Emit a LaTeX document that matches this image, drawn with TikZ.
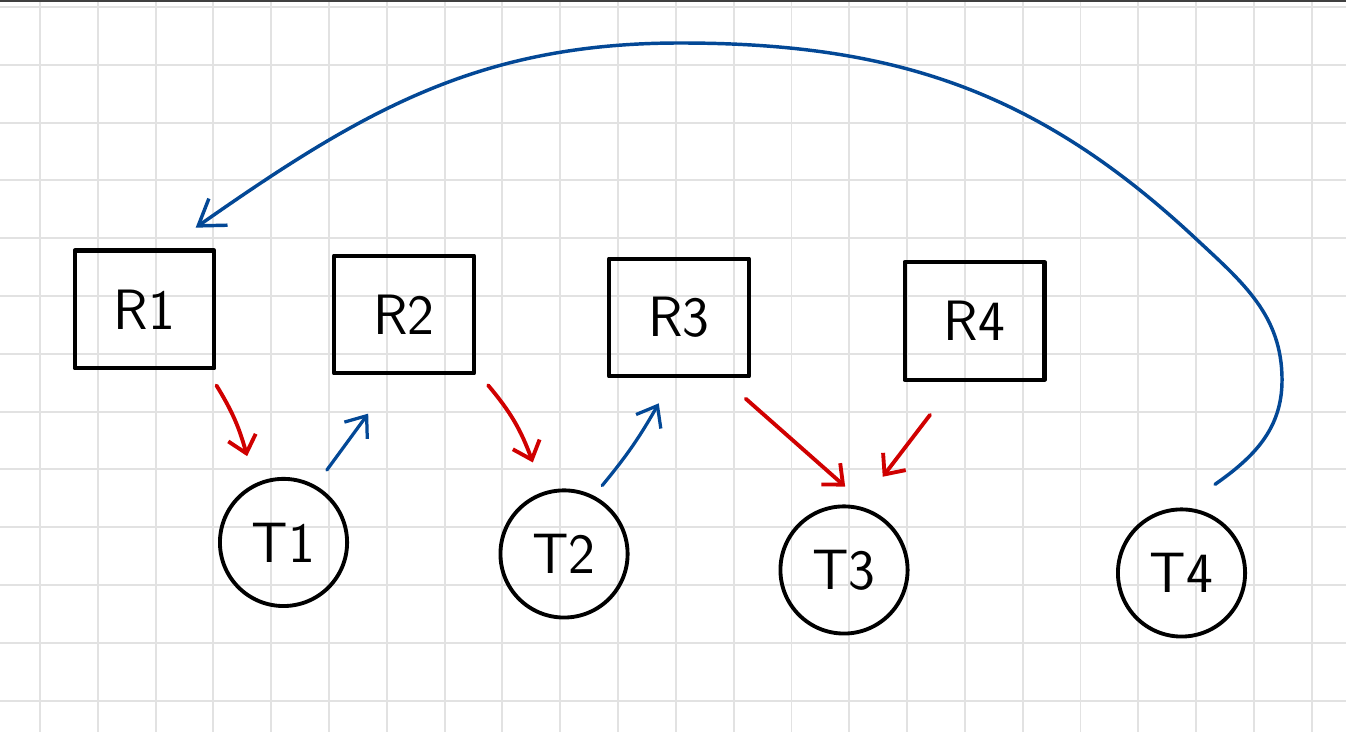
\documentclass[tikz,border=0pt]{standalone}
\usetikzlibrary{arrows.meta}
\definecolor{penred}{RGB}{208,0,0}
\definecolor{penblue}{RGB}{3,72,150}
\definecolor{gridgray}{RGB}{226,226,226}
\tikzset{
  res/.style={draw, line width=2pt, minimum width=2.42cm, minimum height=2.04cm, inner sep=0pt},
  thr/.style={draw, circle, line width=1.9pt, minimum size=2.2cm, inner sep=0pt},
  redarr/.style={-{Straight Barb[length=8pt,width=14pt]}, penred, line width=1.9pt},
  bluearr/.style={-{Straight Barb[length=9pt,width=14pt]}, penblue, line width=1.6pt},
  gridline/.style={gridgray, line width=0.9pt},
}
\begin{document}
\begin{tikzpicture}[line join=round, line cap=round, font=\sffamily\fontsize{28}{30}\selectfont]
\useasboundingbox (0,0) rectangle (23.287,12.664);
\fill[white] (0,0) rectangle (23.287,12.664);
% squared paper
\foreach \i in {0,...,22} \draw[gridline] (0.692+\i,0) -- (0.692+\i,12.664);
\foreach \j in {0,...,12} \draw[gridline] (0,0.543+\j) -- (23.287,0.543+\j);
\fill[black!75] (0,12.63) rectangle (23.287,12.664);
% resources
\node[res] (R1) at (2.500,7.310) {R1};
\node[res] (R2) at (6.990,7.223) {R2};
\node[res] (R3) at (11.747,7.171) {R3};
\node[res] (R4) at (16.860,7.111) {R4};
% threads
\node[thr] (T1) at (4.905,3.279) {T1};
\node[thr] (T2) at (9.758,3.080) {T2};
\node[thr] (T3) at (14.602,2.803) {T3};
\node[thr] (T4) at (20.441,2.751) {T4};
% held by
\draw[redarr] ([yshift=-0.26cm]R1.south east) to[bend left=8] ([shift={(-0.63,0.36)}]T1.north);
\draw[redarr] ([shift={(0.21,-0.17)}]R2.south east) to[bend left=10] ([shift={(-0.54,0.45)}]T2.north);
\draw[redarr] ([shift={(-0.09,-0.35)}]R3.south east) -- ([shift={(0.02,0.31)}]T3.north);
\draw[redarr] ([shift={(-0.77,-0.57)}]R4.south) -- ([shift={(0.67,0.48)}]T3.north);
% waiting for
\draw[bluearr] ([shift={(0.75,0.12)}]T1.north) -- ([shift={(-0.62,-0.66)}]R2.south);
\draw[bluearr] ([shift={(0.66,0.05)}]T2.north) to[bend right=5] ([shift={(-0.35,-0.43)}]R3.south);
\coordinate (arcR) at (22.180,6.090);
\coordinate (arcS) at (20.675,8.547);
\coordinate (arcTop) at (11.765,11.920);
\draw[bluearr, line width=1.7pt, -{Straight Barb[length=12pt,width=16pt]}] ([shift={(0.58,0.40)}]T4.north) to[out=35,in=-90] (arcR) to[out=90,in=-43] (arcS) to[out=137,in=0] (arcTop) to[out=180,in=35] ([shift={(-0.36,0.36)}]R1.north east);
\end{tikzpicture}
\end{document}
